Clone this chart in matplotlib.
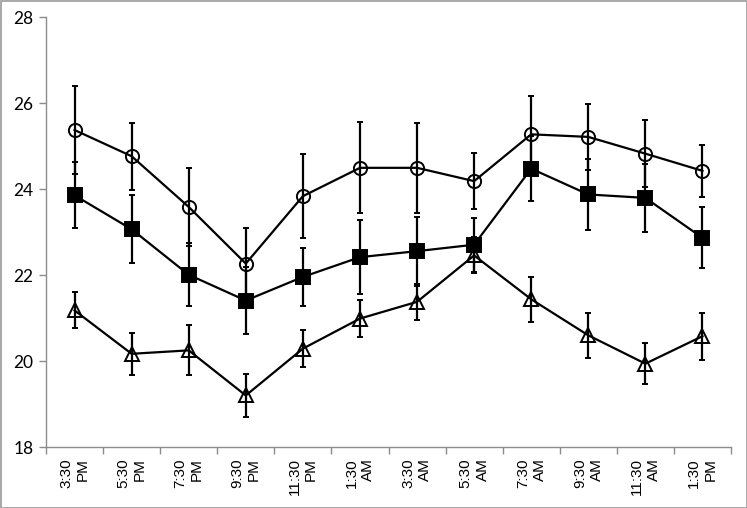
import matplotlib
matplotlib.use("Agg")
import matplotlib.pyplot as plt
from matplotlib.patches import Rectangle

times = ["3:30\nPM", "5:30\nPM", "7:30\nPM", "9:30\nPM", "11:30\nPM", "1:30\nAM",
         "3:30\nAM", "5:30\nAM", "7:30\nAM", "9:30\nAM", "11:30\nAM", "1:30\nPM"]

circle_vals = [25.38, 24.77, 23.59, 22.27, 23.84, 24.50, 24.50, 24.19, 25.28, 25.22, 24.83, 24.43]
circle_err = [1.02, 0.78, 0.91, 0.84, 0.98, 1.06, 1.05, 0.66, 0.89, 0.76, 0.78, 0.61]

square_vals = [23.86, 23.07, 22.01, 21.41, 21.96, 22.42, 22.56, 22.71, 24.48, 23.88, 23.80, 22.87]
square_err = [0.77, 0.79, 0.73, 0.79, 0.68, 0.86, 0.80, 0.63, 0.75, 0.83, 0.79, 0.71]

tri_vals = [21.18, 20.17, 20.25, 19.20, 20.29, 20.99, 21.38, 22.46, 21.44, 20.60, 19.94, 20.58]
tri_err = [0.42, 0.49, 0.58, 0.51, 0.43, 0.44, 0.42, 0.42, 0.52, 0.52, 0.48, 0.55]

fig = plt.figure(figsize=(7.47, 5.08), dpi=100)
ax = fig.add_axes([46/747, 1-447/508, (731-46)/747, (447-17.5)/508])

x = list(range(len(times)))
common = dict(color="black", ecolor="black", elinewidth=1.6, capsize=2.5, capthick=1.6,
              linewidth=1.6, markersize=9.5, markeredgewidth=1.4)

ax.errorbar(x, square_vals, yerr=square_err, marker="s", markerfacecolor="black", **common)
ax.errorbar(x, circle_vals, yerr=circle_err, marker="o", markerfacecolor="none", **common)
ax.errorbar(x, tri_vals, yerr=tri_err, marker="^", markerfacecolor="none", **common)

ax.set_xlim(-0.5, len(times) - 0.5)
ax.set_ylim(18, 28)
ax.set_yticks([18, 20, 22, 24, 26, 28])
ax.set_yticklabels(["18", "20", "22", "24", "26", "28"], fontfamily="Lato", fontsize=12.5)

ax.set_xticks(x)
ax.set_xticklabels(times, rotation=90, fontfamily="Liberation Sans", fontsize=11,
                   va="top", ha="center", multialignment="right", linespacing=1.25)
ax.set_xticks([i - 0.5 for i in range(len(times) + 1)], minor=True)
ax.tick_params(axis="x", which="major", length=0, pad=8)
ax.tick_params(axis="x", which="minor", length=5, color="#8c8c8c", width=1)
ax.tick_params(axis="y", length=5, color="#8c8c8c", width=1, pad=4)

for s in ["top", "right"]:
    ax.spines[s].set_visible(False)
for s in ["left", "bottom"]:
    ax.spines[s].set_color("#8c8c8c")
    ax.spines[s].set_linewidth(1)

fig.patches.append(Rectangle((0.5/747, 0.5/508), 1-1/747, 1-1/508, transform=fig.transFigure,
                             fill=False, edgecolor="#9a9a9a", linewidth=1.2))

fig.savefig("out.png", dpi=100)
